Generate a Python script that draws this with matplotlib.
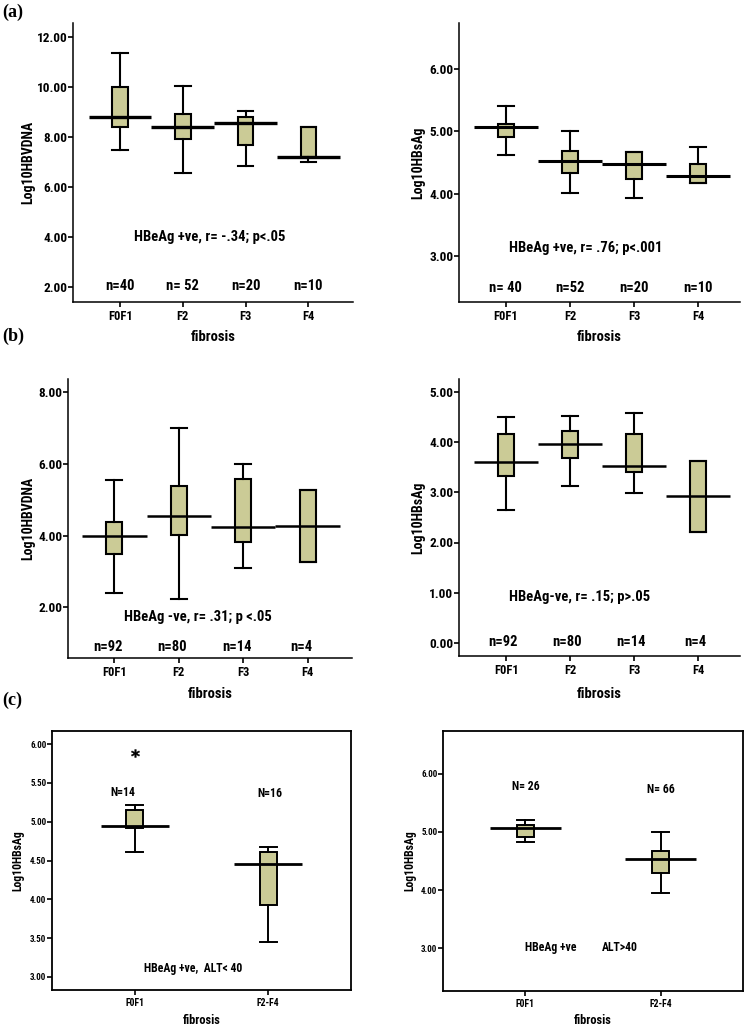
import matplotlib
matplotlib.use('Agg')
import matplotlib.pyplot as plt
from matplotlib import font_manager as fm

# ---------------- data ----------------
cats4 = ['F0F1', 'F2', 'F3', 'F4']
cats2 = ['F0F1', 'F2-F4']

# (a) left: Log10 HBV DNA, HBeAg +ve
a1_lo = [7.47, 6.56, 6.83, 6.98]
a1_q1 = [8.38, 7.90, 7.66, 7.20]
a1_med = [8.80, 8.39, 8.54, 7.20]
a1_q3 = [10.00, 8.90, 8.80, 8.39]
a1_hi = [11.36, 10.02, 9.04, 8.39]
a1_n = ['n=40', 'n= 52', 'n=20', 'n=10']
a1_note = 'HBeAg +ve, r= -.34; p<.05'
a1_yticks = [2, 4, 6, 8, 10, 12]

# (a) right: Log10 HBsAg, HBeAg +ve
a2_lo = [4.62, 4.02, 3.94, 4.18]
a2_q1 = [4.90, 4.33, 4.24, 4.18]
a2_med = [5.06, 4.53, 4.47, 4.29]
a2_q3 = [5.11, 4.68, 4.66, 4.48]
a2_hi = [5.40, 5.00, 4.66, 4.75]
a2_n = ['n= 40', 'n=52', 'n=20', 'n=10']
a2_note = 'HBeAg +ve, r= .76; p<.001'
a2_yticks = [3, 4, 5, 6]

# (b) left: Log10 HBV DNA, HBeAg -ve
b1_lo = [2.40, 2.23, 3.11, 3.28]
b1_q1 = [3.50, 4.01, 3.82, 3.28]
b1_med = [3.98, 4.56, 4.24, 4.26]
b1_q3 = [4.38, 5.39, 5.59, 5.27]
b1_hi = [5.56, 7.00, 6.00, 5.27]
b1_n = ['n=92', 'n=80', 'n=14', 'n=4']
b1_note = 'HBeAg -ve, r= .31; p <.05'
b1_yticks = [2, 4, 6, 8]

# (b) right: Log10 HBsAg, HBeAg -ve
b2_lo = [2.65, 3.12, 2.99, 2.22]
b2_q1 = [3.33, 3.69, 3.41, 2.22]
b2_med = [3.61, 3.97, 3.53, 2.93]
b2_q3 = [4.17, 4.22, 4.17, 3.63]
b2_hi = [4.51, 4.52, 4.59, 3.63]
b2_n = ['n=92', 'n=80', 'n=14', 'n=4']
b2_note = 'HBeAg-ve, r= .15; p>.05'
b2_yticks = [0, 1, 2, 3, 4, 5]

# (c) left: Log10 HBsAg, HBeAg +ve, ALT<40
c1_lo = [4.61, 3.45]
c1_q1 = [4.92, 3.93]
c1_med = [4.95, 4.46]
c1_q3 = [5.15, 4.61]
c1_hi = [5.22, 4.67]
c1_out = [[5.89], []]
c1_n = ['N=14', 'N=16']
c1_note = 'HBeAg +ve,  ALT< 40'
c1_yticks = [3.0, 3.5, 4.0, 4.5, 5.0, 5.5, 6.0]

# (c) right: Log10 HBsAg, HBeAg +ve, ALT>40
c2_lo = [4.82, 3.95]
c2_q1 = [4.91, 4.29]
c2_med = [5.07, 4.53]
c2_q3 = [5.11, 4.68]
c2_hi = [5.20, 5.00]
c2_n = ['N= 26', 'N= 66']
c2_note1 = 'HBeAg +ve'
c2_note2 = 'ALT>40'
c2_yticks = [3, 4, 5, 6]

# ---------------- style ----------------
names = {f.name for f in fm.fontManager.ttflist}
FONT = 'Liberation Sans'
for cand in ['Liberation Sans Narrow', 'Arial Narrow', 'Roboto Condensed', 'Liberation Sans']:
    if cand in names:
        FONT = cand
        break
plt.rcParams['font.family'] = [FONT, 'DejaVu Sans']
plt.rcParams['font.weight'] = 'bold'

BOX = '#cbcb96'
W, H = 746, 1027
fig = plt.figure(figsize=(W / 100, H / 100), dpi=100)


def add_ax(l, t, r, b):
    return fig.add_axes([l / W, 1 - b / H, (r - l) / W, (b - t) / H])


def panel(ax, cats, lo, q1, med, q3, hi, width, medlw, medhalf, xlim, ylim,
          yticks, ylabel, fliers=None, framed=False, fs_tick=9.5, fs_xtick=9,
          fs_lab=10.5, box_lw=1.5):
    pos = list(range(len(cats)))
    stats = []
    for i in range(len(cats)):
        stats.append(dict(whislo=lo[i], q1=q1[i], med=med[i], q3=q3[i],
                          whishi=hi[i],
                          fliers=(fliers[i] if fliers else [])))
    ax.bxp(stats, positions=pos, widths=width, capwidths=width,
           patch_artist=True, showfliers=True,
           boxprops=dict(facecolor=BOX, edgecolor='black', linewidth=box_lw),
           whiskerprops=dict(color='black', linewidth=box_lw),
           capprops=dict(color='black', linewidth=box_lw),
           medianprops=dict(linewidth=0),
           flierprops=dict(marker=r'$*$', markersize=6, markeredgewidth=0.3,
                           markeredgecolor='black', markerfacecolor='black'))
    ax.hlines(med, [p - medhalf for p in pos], [p + medhalf for p in pos],
              colors='black', linewidth=medlw, zorder=5)
    ax.set_xlim(*xlim)
    ax.set_ylim(*ylim)
    ax.set_xticks(pos)
    ax.set_xticklabels(cats, fontsize=fs_xtick, fontweight='bold')
    ax.set_yticks(yticks)
    ax.set_yticklabels(['%.2f' % v for v in yticks], fontsize=fs_tick,
                       fontweight='bold')
    ax.tick_params(axis='y', direction='out', length=3.5, width=1.2, pad=0.5)
    ax.tick_params(axis='x', direction='out', length=3.5, width=1.2, pad=2)
    for s in ['left', 'bottom', 'top', 'right']:
        ax.spines[s].set_linewidth(1.3 if framed else 1.1)
    if not framed:
        ax.spines['top'].set_visible(False)
        ax.spines['right'].set_visible(False)
    ax.set_ylabel(ylabel, fontsize=fs_lab - 0.5, fontweight='bold')
    ax.set_xlabel('fibrosis', fontsize=fs_lab, fontweight='bold')
    ax.patch.set_alpha(0)


def place_labels(ax, box, ylab_x, xlab_y):
    l, t, r, b = box
    ax.yaxis.set_label_coords((ylab_x - l) / (r - l), 0.5)
    ax.yaxis.label.set_va('center')
    ax.xaxis.set_label_coords(0.5, (b - xlab_y) / (b - t))
    ax.xaxis.label.set_va('center')


# (a) left
box = (73, 23, 353, 302)
ax = add_ax(*box)
panel(ax, cats4, a1_lo, a1_q1, a1_med, a1_q3, a1_hi, 0.25, 2.4, 0.5,
      (-0.75, 3.71), (1.4, 12.55), a1_yticks, 'Log10HBVDNA')
place_labels(ax, box, 28, 337)
for i, t in enumerate(a1_n):
    ax.text(i, 2.05, t, ha='center', va='center', fontsize=10.5, fontweight='bold')
ax.text(1.43, 4.0, a1_note, ha='center', va='center', fontsize=10.5, fontweight='bold')

# (a) right
box = (459, 23, 740, 302)
ax = add_ax(*box)
panel(ax, cats4, a2_lo, a2_q1, a2_med, a2_q3, a2_hi, 0.25, 2.2, 0.5,
      (-0.73, 3.65), (2.27, 6.73), a2_yticks, 'Log10HBsAg')
place_labels(ax, box, 418, 337)
for i, t in enumerate(a2_n):
    ax.text(i, 2.50, t, ha='center', va='center', fontsize=10.5, fontweight='bold')
ax.text(1.25, 3.13, a2_note, ha='center', va='center', fontsize=10.5, fontweight='bold')

# (b) left
box = (68, 379, 352, 658)
ax = add_ax(*box)
panel(ax, cats4, b1_lo, b1_q1, b1_med, b1_q3, b1_hi, 0.25, 1.8, 0.5,
      (-0.72, 3.69), (0.59, 8.37), b1_yticks, 'Log10HBVDNA')
place_labels(ax, box, 28, 694)
for i, t in enumerate(b1_n):
    ax.text(i - 0.1, 0.90, t, ha='center', va='center', fontsize=10.5, fontweight='bold')
ax.text(1.30, 1.72, b1_note, ha='center', va='center', fontsize=10.5, fontweight='bold')

# (b) right
box = (459, 379, 740, 656)
ax = add_ax(*box)
panel(ax, cats4, b2_lo, b2_q1, b2_med, b2_q3, b2_hi, 0.25, 1.8, 0.5,
      (-0.74, 3.65), (-0.27, 5.27), b2_yticks, 'Log10HBsAg')
place_labels(ax, box, 418, 694)
for i, t in enumerate(b2_n):
    ax.text(i - 0.05, 0.02, t, ha='center', va='center', fontsize=10.5, fontweight='bold')
ax.text(1.14, 0.92, b2_note, ha='center', va='center', fontsize=10.5, fontweight='bold')

# (c) left
box = (52, 731, 351, 990)
ax = add_ax(*box)
panel(ax, cats2, c1_lo, c1_q1, c1_med, c1_q3, c1_hi, 0.13, 2.0, 0.255,
      (-0.62, 1.62), (2.83, 6.17), c1_yticks, 'Log10HBsAg', fliers=c1_out,
      framed=True, fs_tick=6.5, fs_xtick=7, fs_lab=9, box_lw=1.4)
place_labels(ax, box, 18, 1021)
ax.text(-0.09, 5.38, c1_n[0], ha='center', va='center', fontsize=8.5, fontweight='bold')
ax.text(1.01, 5.36, c1_n[1], ha='center', va='center', fontsize=8.5, fontweight='bold')
ax.text(0.44, 3.11, c1_note, ha='center', va='center', fontsize=8.5, fontweight='bold')

# (c) right
box = (443, 731, 743, 991)
ax = add_ax(*box)
panel(ax, cats2, c2_lo, c2_q1, c2_med, c2_q3, c2_hi, 0.13, 2.0, 0.26,
      (-0.61, 1.61), (2.27, 6.73), c2_yticks, 'Log10HBsAg',
      framed=True, fs_tick=6.5, fs_xtick=7, fs_lab=9, box_lw=1.4)
place_labels(ax, box, 410, 1021)
ax.text(0.0, 5.77, c2_n[0], ha='center', va='center', fontsize=8.5, fontweight='bold')
ax.text(1.0, 5.73, c2_n[1], ha='center', va='center', fontsize=8.5, fontweight='bold')
ax.text(0.19, 3.01, c2_note1, ha='center', va='center', fontsize=8.5, fontweight='bold')
ax.text(0.70, 3.01, c2_note2, ha='center', va='center', fontsize=8.5, fontweight='bold')

# panel letters
for lab, y in [('(a)', 12), ('(b)', 336), ('(c)', 700)]:
    fig.text(2 / W, 1 - y / H, lab, ha='left', va='center', fontsize=13,
             fontweight='bold', family=['Liberation Serif', 'DejaVu Serif'])

fig.savefig('out.png', dpi=100)
